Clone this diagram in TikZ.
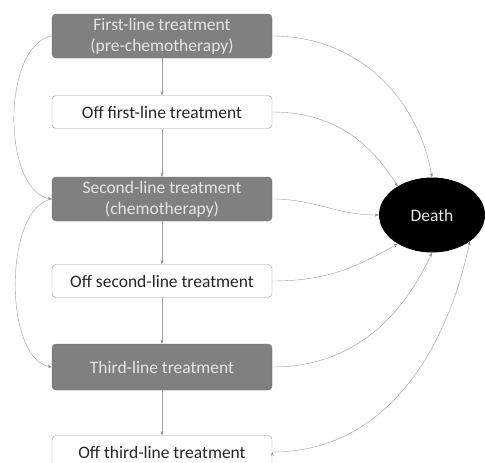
\documentclass[tikz,border=0pt]{standalone}
\usepackage{fontspec}
\setmainfont{Carlito}
\usetikzlibrary{arrows.meta,positioning,shapes.geometric}

\definecolor{boxgray}{HTML}{808080}
\definecolor{boxedge}{HTML}{6E6E6E}
\definecolor{linegray}{HTML}{9E9E9E}

\begin{document}
\begin{tikzpicture}[x=1pt,y=1pt,on grid,auto,>={Stealth[length=4pt,width=3pt]}]
            \tikzstyle{every node}=[font=\fontsize{17.5}{21}\selectfont]
            \tikzstyle{line}=[rectangle,rounded corners=4pt,minimum width=220pt,align=center,inner sep=2pt]
            \tikzstyle{on}=[line,fill=boxgray,draw=boxedge,text=white!90!black,minimum height=44pt]
            \tikzstyle{off}=[line,fill=white,draw=linegray,text=black!85,minimum height=33pt]

            \useasboundingbox (0,0) rectangle (485,-463);

            \node[on]  (first)     at (162,-36)          {First-line treatment\\(pre-chemotherapy)};
            \node[off] (offfirst)  [below=76pt of first]  {Off first-line treatment};
            \node[on]  (second)    [below=87pt of offfirst] {Second-line treatment\\(chemotherapy)};
            \node[off] (offsecond) [below=82pt of second] {Off second-line treatment};
            \node[on, minimum height=46pt] (third) [below=86pt of offsecond] {Third-line treatment};
            \node[off] (offthird)  [below=85pt of third]  {Off third-line treatment};

            \node[ellipse, fill=black, minimum width=106pt, minimum height=75pt, text=white!90!black]
                (death) [right=270pt of second, yshift=-16pt] {Death};

            \path[->, draw=linegray, thin]
                (first) edge (offfirst)
                (offfirst) edge (second)
                (second) edge (offsecond)
                (offsecond) edge (third)
                (third) edge (offthird)

                (first.west) edge [out=190, in=170, looseness=0.8] (second.west)
                (second.west) edge [out=190, in=170, looseness=0.75] (third.west)

                (first.east) edge [out=0, in=100] (death.north)
                (offfirst.east) edge [out=0, in=122] (death.140)
                (second.east) edge [out=0, in=180] (death.west)
                (offsecond.east) edge [out=0, in=210] (death.-140)
                (third.east) edge [out=0, in=245] (death.south)
                (offthird.east) edge [out=0, in=258] (death.-35)
                ;
        \end{tikzpicture}
\end{document}
